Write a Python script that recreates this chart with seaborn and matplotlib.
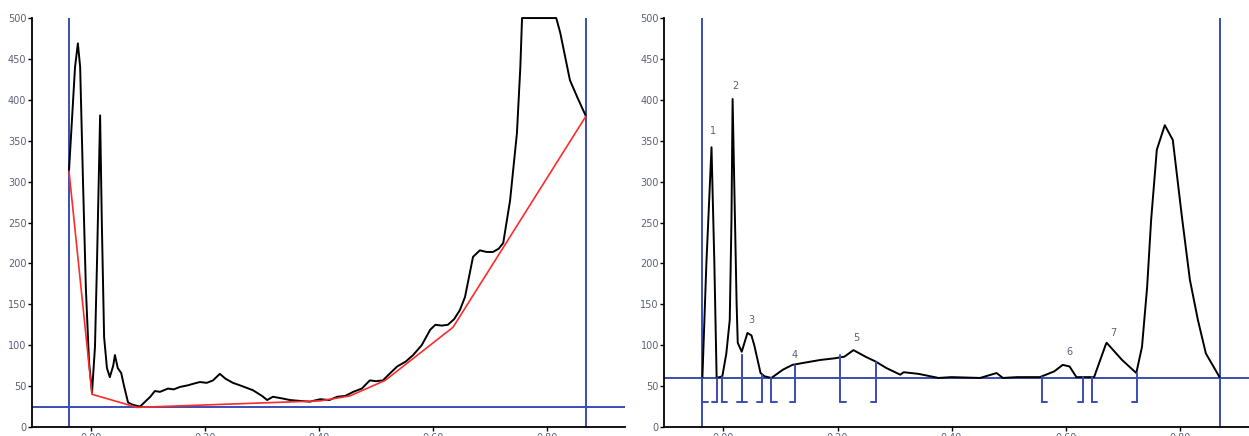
import matplotlib
matplotlib.use("Agg")
from matplotlib import pyplot as plt
import seaborn as sns
import pandas as pd

# raw signal (left panel)
raw_x = [-0.0386, -0.033, -0.028, -0.023, -0.019, -0.014, -0.009, -0.0035, 0.0018, 0.007,
         0.0105, 0.016, 0.019, 0.023, 0.028, 0.033, 0.039, 0.042, 0.047, 0.053,
         0.058, 0.065, 0.074, 0.086, 0.095, 0.104, 0.112, 0.121, 0.135, 0.145, 0.156, 0.170,
         0.180, 0.191, 0.203, 0.214, 0.226, 0.236, 0.249, 0.265, 0.284, 0.300, 0.309, 0.319,
         0.335, 0.349, 0.365, 0.384, 0.402, 0.418, 0.432, 0.446, 0.460, 0.475, 0.489, 0.500,
         0.512, 0.525, 0.537, 0.552, 0.565, 0.580, 0.595, 0.604, 0.615, 0.626, 0.637,
         0.647, 0.656, 0.670, 0.682, 0.694, 0.705, 0.715, 0.723, 0.735, 0.747, 0.753,
         0.756, 0.816, 0.823, 0.840, 0.853, 0.868]
raw_y = [313, 380, 440, 469, 440, 300, 170, 80, 42, 98,
         200, 381, 250, 110, 72, 61, 75, 88, 72, 66,
         50, 30, 27, 25, 31, 37, 44, 43, 47, 46, 49, 51,
         53, 55, 54, 57, 65, 59, 54, 50, 45, 38, 33, 37,
         35, 33, 32, 31, 34, 33, 37, 38, 43, 47, 57, 56,
         57, 66, 74, 80, 88, 100, 119, 125, 124, 125, 132,
         143, 159, 208, 216, 214, 214, 218, 225, 277, 359, 440,
         500, 500, 482, 424, 403, 380]

# fitted baseline (left panel)
base_x = [-0.0386, 0.0018, 0.081, 0.402, 0.454, 0.516, 0.635, 0.868]
base_y = [313, 40, 24, 32, 38, 57, 122, 380]

# corrected signal (right panel)
corr_x = [-0.037, -0.030, -0.021, -0.016, -0.012, -0.007, -0.002, 0.005, 0.011, 0.014,
          0.016, 0.023, 0.025, 0.032, 0.042, 0.049, 0.054, 0.065, 0.072, 0.084,
          0.104, 0.121, 0.145, 0.170, 0.195, 0.212, 0.228, 0.249, 0.267, 0.286, 0.310,
          0.316, 0.342, 0.377, 0.400, 0.450, 0.479, 0.490, 0.515, 0.555, 0.580,
          0.595, 0.607, 0.619, 0.633, 0.650, 0.670, 0.672, 0.699, 0.724, 0.734, 0.743,
          0.750, 0.760, 0.774, 0.788, 0.804, 0.818, 0.832, 0.846, 0.870]
corr_y = [60, 200, 342, 200, 60, 61, 62, 90, 131, 253,
          401, 152, 103, 92, 115, 112, 100, 66, 62, 60,
          70, 76, 79, 82, 84, 86, 94, 86, 80, 72, 64,
          67, 65, 60, 61, 60, 66, 60, 61, 61, 68,
          76, 74, 61, 61, 61, 100, 103, 82, 66, 98, 171,
          253, 339, 369, 351, 257, 180, 131, 90, 61]

# integration window edges: x, side (+1 = "[", -1 = "]")
edge_x = [-0.037, -0.012, -0.002, 0.033, 0.033, 0.067, 0.084, 0.125, 0.205, 0.267,
          0.559, 0.630, 0.646, 0.725]
edge_side = [1, -1, 1, -1, 1, -1, 1, -1, 1, -1, 1, -1, 1, -1]
edge_top = [60, 60, 61, 88, 88, 63, 60, 76, 88, 80, 61, 61, 61, 66]

peak_labels = ["1", "2", "3", "4", "5", "6", "7"]
peak_x = [-0.019, 0.021, 0.049, 0.125, 0.233, 0.607, 0.684]
peak_y = [356, 411, 125, 82, 103, 85, 109]

left_limits = (-0.0386, 0.868)
right_limits = (-0.037, 0.870)
left_floor = 24
right_floor = 60
bracket_y = 30

blue = "#3b4db3"
tick_col = "#5a6078"

sns.set_style("white")
fig = plt.figure(figsize=(12.49, 4.36), dpi=100)
ax1 = fig.add_axes([0.0256, 0.0206, 0.475, 0.938])
ax2 = fig.add_axes([0.532, 0.0206, 0.475, 0.938])

raw = pd.DataFrame({"x": raw_x, "y": raw_y})
base = pd.DataFrame({"x": base_x, "y": base_y})
corr = pd.DataFrame({"x": corr_x, "y": corr_y})

# left: raw + baseline
for xv in left_limits:
    ax1.axvline(xv, color=blue, lw=1.4)
ax1.axhline(left_floor, color=blue, lw=1.4)
sns.lineplot(data=raw, x="x", y="y", ax=ax1, color="black", lw=1.4, sort=False,
             estimator=None, clip_on=False)
sns.lineplot(data=base, x="x", y="y", ax=ax1, color="#ff2a2a", lw=1.2, sort=False,
             estimator=None)

# right: corrected signal
for xv in right_limits:
    ax2.axvline(xv, color=blue, lw=1.4)
ax2.axhline(right_floor, color=blue, lw=1.4)
sns.lineplot(data=corr, x="x", y="y", ax=ax2, color="black", lw=1.4, sort=False,
             estimator=None)

tick_w = 0.009
for xv, side, top in zip(edge_x, edge_side, edge_top):
    ax2.plot([xv, xv], [bracket_y, top], color=blue, lw=1.4)
    ax2.plot([xv, xv + side * tick_w], [bracket_y, bracket_y], color=blue, lw=1.4)

for lab, xv, yv in zip(peak_labels, peak_x, peak_y):
    ax2.text(xv, yv, lab, fontsize=7, color=tick_col, ha="center", va="bottom")

for ax in (ax1, ax2):
    ax.set_xlim(-0.1035, 0.937)
    ax.set_ylim(0, 500)
    for s in ("top", "right"):
        ax.spines[s].set_visible(False)
    for s in ("left", "bottom"):
        ax.spines[s].set_color("black")
        ax.spines[s].set_linewidth(1.3)
    ax.set_yticks(range(0, 501, 50))
    ax.set_xticks([0.0, 0.2, 0.4, 0.6, 0.8])
    ax.set_xticklabels(["0.00", "0.20", "0.40", "0.60", "0.80"])
    ax.tick_params(axis="both", direction="out", length=3, width=1, color="black",
                   labelsize=7, labelcolor=tick_col, pad=1, bottom=True, left=True)
    ax.set_xlabel("")
    ax.set_ylabel("")
    ax.grid(False)

fig.savefig("out.png", dpi=100)
